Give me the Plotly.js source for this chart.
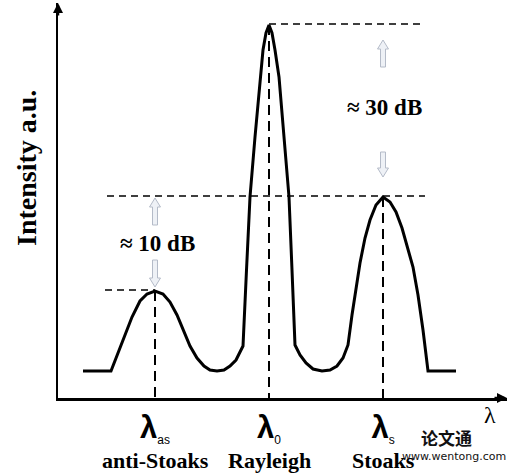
<!DOCTYPE html>
<html>
<head>
<meta charset="utf-8">
<script src="https://cdn.plot.ly/plotly-3.0.1.min.js"></script>
<style>html,body{margin:0;padding:0;background:#fff;}#chart{width:509px;height:473px;}</style>
</head>
<body>
<div id="chart"></div>
<script>
// Spectrum curve (arbitrary units)
const curveX = [25, 53, 74, 82, 89, 97, 105, 112, 119, 126, 132, 139, 146, 152, 159, 166, 172, 178, 185,
  188.5, 192, 197, 202, 205, 208, 211, 214, 217, 221, 226, 231, 234, 237,
  242, 248, 255, 264, 272, 279, 285, 290,
  294, 298, 302, 307, 312, 318, 325, 332, 338, 344, 350, 355, 360, 365, 370, 398];
const curveY = [27, 27, 81, 97, 104, 107, 104, 96, 83, 66, 52, 40, 32, 28, 27, 28, 32, 38, 52,
  128, 201, 261, 321, 348, 365, 373, 365, 348, 321, 261, 201, 128, 53,
  43, 35, 29, 27, 28, 32, 40, 53,
  83, 110, 135, 160, 178, 193, 201, 196, 186, 170, 150, 131, 103, 68, 27, 27];

// Peaks
const peakX = [97, 211, 325];
const peakY = [107, 373, 201];
const peakSub = ['as', '0', 's'];
const peakNames = ['anti-Stoaks', 'Rayleigh', 'Stoaks'];

// Horizontal reference levels
const levelY = [108, 374, 202];
const levelStart = [47, 211, 49];
const levelEnd = [97, 367, 367];

// Ratio labels
const ratioText = ['\u2248 10 dB', '\u2248 30 dB'];
const ratioX = [99, 326];
const ratioY = [155, 291];

// Hollow arrows
const arrowX = [97, 97, 325, 325];
const arrowTop = [200, 138, 358, 246];
const arrowBottom = [173, 111, 331, 221];
const arrowDir = ['up', 'down', 'up', 'down'];

const Y_SPAN = 395; // y axis range top, used to convert to paper coordinates below the axis

const traces = [];
traces.push({x: curveX, y: curveY, mode: 'lines', line: {color: '#000', width: 3}, hoverinfo: 'skip', cliponaxis: false});
for (let i = 0; i < levelY.length; i++) {
  traces.push({x: [levelStart[i], levelEnd[i]], y: [levelY[i], levelY[i]], mode: 'lines',
    line: {color: '#000', width: 1.3, dash: '7px,5px'}, hoverinfo: 'skip'});
}
for (let i = 0; i < peakX.length; i++) {
  traces.push({x: [peakX[i], peakX[i]], y: [peakY[i], -4], mode: 'lines', cliponaxis: false,
    line: {color: '#000', width: 2, dash: '10px,6px'}, hoverinfo: 'skip'});
}

const shapes = [];
for (let i = 0; i < arrowX.length; i++) {
  const x = arrowX[i], t = arrowTop[i], b = arrowBottom[i];
  let p;
  if (arrowDir[i] === 'up') {
    p = `M ${x-2.5},${b} L ${x-2.5},${t-9} L ${x-5.5},${t-9} L ${x},${t} L ${x+5.5},${t-9} L ${x+2.5},${t-9} L ${x+2.5},${b} Z`;
  } else {
    p = `M ${x-2.5},${t} L ${x-2.5},${b+9} L ${x-5.5},${b+9} L ${x},${b} L ${x+5.5},${b+9} L ${x+2.5},${b+9} L ${x+2.5},${t} Z`;
  }
  shapes.push({type: 'path', xref: 'x', yref: 'y', path: p, fillcolor: '#eef1f6', line: {color: '#b4bbc8', width: 1}});
}

const annotations = [];
// axis arrowheads
annotations.push({x: 449, y: 0, ax: 435, ay: 0, xref: 'x', yref: 'y', axref: 'x', ayref: 'y', text: '', showarrow: true, arrowhead: 2, arrowsize: 0.8, arrowwidth: 2.5, arrowcolor: '#000'});
annotations.push({x: 0, y: 395, ax: 0, ay: 381, xref: 'x', yref: 'y', axref: 'x', ayref: 'y', text: '', showarrow: true, arrowhead: 2, arrowsize: 0.8, arrowwidth: 2.5, arrowcolor: '#000'});
for (let i = 0; i < ratioText.length; i++) {
  annotations.push({x: ratioX[i], y: ratioY[i], xref: 'x', yref: 'y', text: '<b>' + ratioText[i] + '</b>', showarrow: false,
    xanchor: 'center', yanchor: 'middle', font: {family: 'Liberation Serif', size: 23, color: '#000'}});
}
for (let i = 0; i < peakNames.length; i++) {
  annotations.push({x: peakX[i], y: -62 / Y_SPAN, xref: 'x', yref: 'paper', text: '<b>' + peakNames[i] + '</b>', showarrow: false,
    xanchor: 'center', yanchor: 'middle', font: {family: 'Liberation Serif', size: 22, color: '#000'}});
}
annotations.push({x: -32/449, y: 230, xref: 'paper', yref: 'y', text: '<b>Intensity a.u.</b>', textangle: -90, showarrow: false,
  xanchor: 'center', yanchor: 'middle', font: {family: 'Liberation Serif', size: 28, color: '#000'}});
annotations.push({x: 432, y: -17 / Y_SPAN, xref: 'x', yref: 'paper', text: '\u03bb', showarrow: false,
  xanchor: 'center', yanchor: 'middle', font: {family: 'Liberation Serif', size: 24, color: '#000'}});
annotations.push({x: 388, y: -39 / Y_SPAN, xref: 'x', yref: 'paper', text: '<b>论文通</b>', showarrow: false,
  xanchor: 'center', yanchor: 'middle', font: {family: 'Noto Sans CJK SC', size: 17, color: '#111'}});
annotations.push({x: 396, y: -59 / Y_SPAN, xref: 'x', yref: 'paper', text: 'www.wentong.com', showarrow: false,
  xanchor: 'center', yanchor: 'middle', font: {family: 'DejaVu Sans', size: 11, color: '#111'}});

const tickText = peakSub.map(s => '<b>\u03bb</b><sub><span style="font-size:12px">' + s + '</span></sub>');

const layout = {
  width: 509, height: 473,
  margin: {l: 58, r: 2, t: 3, b: 75},
  paper_bgcolor: '#fff', plot_bgcolor: '#fff',
  showlegend: false,
  xaxis: {range: [0, 449], showgrid: false, zeroline: false, showline: true, linecolor: '#000', linewidth: 2.5,
    tickmode: 'array', tickvals: peakX, ticktext: tickText, ticks: '', ticklen: 0,
    tickfont: {family: 'Liberation Sans', size: 31, color: '#000'}, fixedrange: true},
  yaxis: {range: [0, Y_SPAN], showgrid: false, zeroline: false, showline: true, linecolor: '#000', linewidth: 2.5,
    showticklabels: false, ticks: '', fixedrange: true},
  shapes: shapes,
  annotations: annotations
};

Plotly.newPlot('chart', traces, layout, {staticPlot: true});
</script>
</body>
</html>
